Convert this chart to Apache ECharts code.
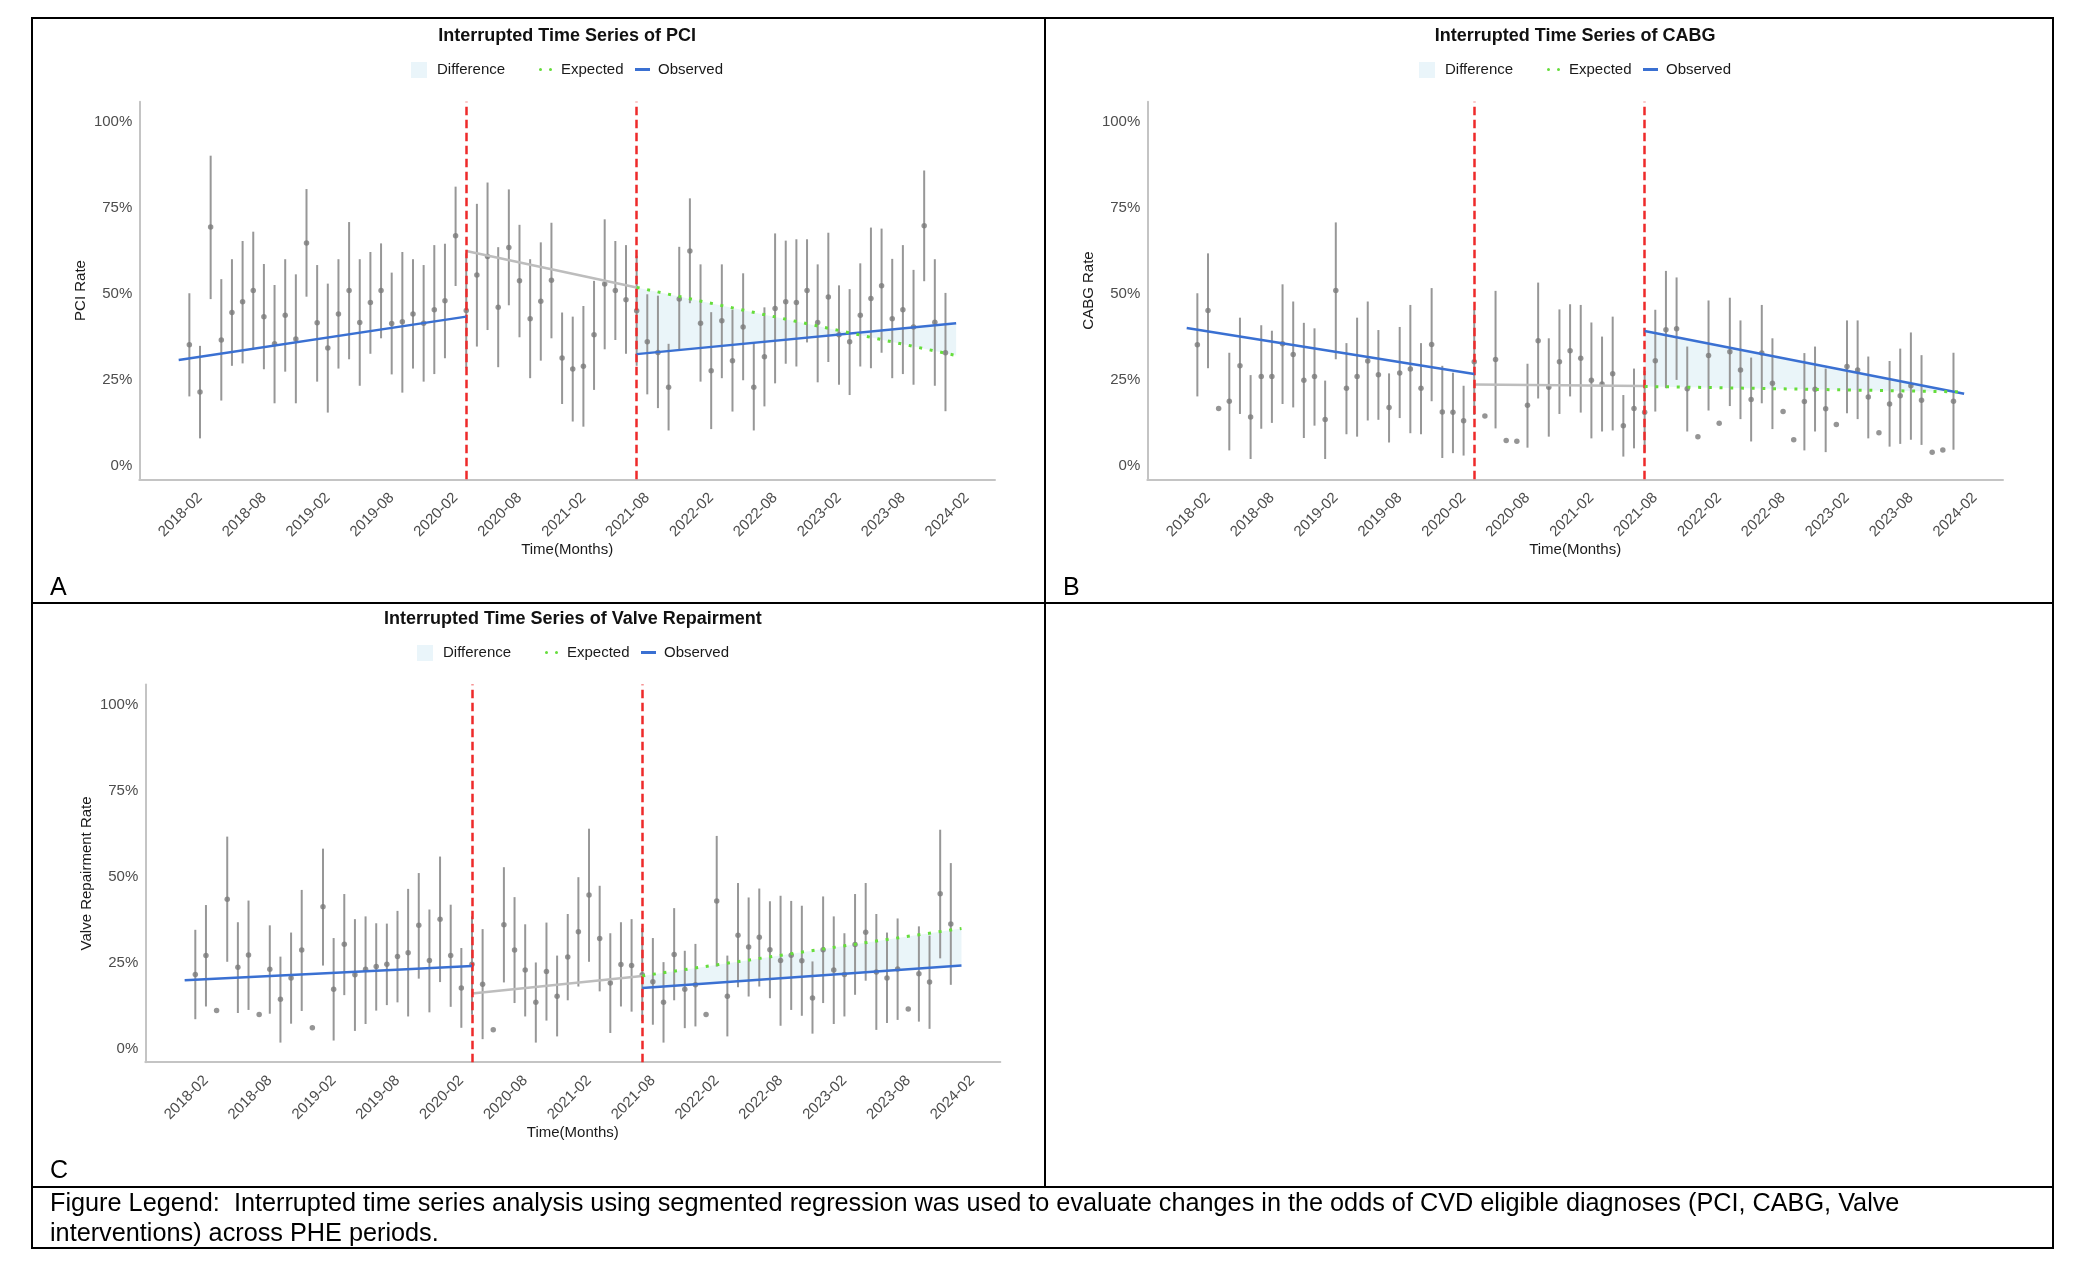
<!DOCTYPE html>
<html>
<head>
<meta charset="utf-8">
<script src="https://cdn.jsdelivr.net/npm/echarts@6/dist/echarts.min.js"></script>
<style>
html,body{margin:0;padding:0;background:#fff;}
#chart{width:2086px;height:1278px;}
</style>
</head>
<body>
<div id="chart"></div>
<script>
// ---- Axis ticks (month index: 0 = 2018-01) ----
const tickMonths = [1, 7, 13, 19, 25, 31, 37, 43, 49, 55, 61, 67, 73];
const tickLabels = ['2018-02','2018-08','2019-02','2019-08','2020-02','2020-08','2021-02','2021-08','2022-02','2022-08','2023-02','2023-08','2024-02'];
const yTicks = [0, 25, 50, 75, 100];
const breakMonths = [26, 42];

// ---- PCI ----
const pciRate = [35.1,21.4,69.4,36.5,44.5,47.6,50.9,43.3,35.4,43.7,
  36.8,64.7,41.5,34.2,44.1,50.9,41.6,47.4,50.9,41.3,
  41.8,44.1,41.4,45.3,47.9,66.8,45.1,55.4,60.8,46.0,
  63.4,53.7,42.7,47.8,53.9,31.3,28.1,28.9,38.0,52.8,
  50.9,48.2,45.0,36.0,32.9,22.8,48.4,62.4,41.4,27.6,
  42.1,30.5,40.3,22.8,31.6,45.7,47.6,47.4,50.9,41.6,
  49.0,38.0,36.0,43.7,48.6,52.3,42.7,45.3,40.3,69.7,
  41.7,32.8];
const pciLow = [20.1,7.9,48.4,18.9,29.0,29.7,34.0,28.0,18.1,27.3,
  18.1,49.1,24.4,15.4,28.2,30.9,23.2,32.5,37.0,26.5,
  21.2,28.2,24.4,26.6,31.2,52.2,28.3,34.6,39.4,28.6,
  46.6,37.3,25.4,30.5,37.0,17.9,12.8,11.3,22.0,33.8,
  36.5,32.5,29.0,20.7,16.7,10.2,33.6,47.2,24.4,10.6,
  25.4,15.7,24.8,10.2,17.2,23.9,29.6,28.8,35.8,24.2,
  30.1,23.5,20.5,28.8,28.3,32.8,25.4,26.6,23.5,53.6,
  23.2,15.8];
const pciHigh = [50.1,34.8,90.1,54.2,60.0,65.3,68.0,58.6,52.5,60.0,
  55.6,80.4,58.3,52.9,60.0,70.8,60.0,62.1,64.6,56.1,
  62.1,60.0,58.3,64.1,64.5,81.1,61.7,76.1,82.3,63.5,
  80.3,70.0,60.0,64.9,70.6,44.5,43.3,46.4,53.7,71.6,
  65.3,64.1,61.0,49.8,49.4,35.4,63.6,77.7,58.5,44.6,
  58.5,45.3,55.9,35.6,46.0,67.5,65.4,65.8,65.8,58.5,
  67.7,52.4,51.3,58.8,69.2,68.9,60.1,64.1,56.9,85.8,
  60.0,50.2];
const pciObservedPre = [[-1, 30.7], [26, 43.3]];
const pciInterim = [[26, 62.4], [42, 51.8]];
const pciObservedPost = [[42, 32.4], [72, 41.4]];
const pciExpected = [[42, 51.8], [72, 32.0]];

// ---- CABG ----
const cabgRate = [35.1,45.1,16.6,18.7,29.0,14.1,25.9,25.9,35.4,32.3,
  24.8,25.9,13.4,50.9,22.5,25.9,30.4,26.4,16.9,26.9,
  28.1,22.5,35.2,15.6,15.5,13.0,30.2,14.4,30.8,7.3,
  7.1,17.5,36.3,22.8,30.2,33.4,31.2,24.8,23.7,26.7,
  11.6,16.6,15.5,30.5,39.5,39.8,22.3,8.4,32.0,12.3,
  33.1,27.8,19.2,32.7,23.9,15.7,7.5,18.6,22.2,16.5,
  11.9,28.8,27.8,19.9,9.5,17.9,20.3,23.2,19.0,3.9,
  4.5,18.7];
const cabgLow = [20.1,28.3,null,4.4,15.0,1.9,10.7,12.4,17.9,16.9,
  8.0,11.6,1.9,30.9,9.1,8.4,13.1,13.3,6.7,13.8,
  9.4,9.1,18.7,2.2,3.6,2.9,14.7,null,10.8,null,
  null,5.2,19.5,8.4,15.0,20.1,15.4,7.9,9.9,10.2,
  2.6,5.0,3.9,15.7,22.5,24.9,9.9,null,16.0,null,
  17.3,13.5,7.0,18.1,10.6,null,null,4.4,9.9,3.9,
  null,15.2,13.5,7.9,null,5.5,6.3,7.5,6.0,null,
  null,4.6];
const cabgHigh = [50.1,61.7,null,32.8,43.0,26.3,40.8,39.2,52.7,47.7,
  41.5,39.9,24.7,70.7,35.6,43.0,47.7,39.4,26.8,40.3,
  46.7,35.6,51.6,29.0,27.0,23.2,45.3,null,50.8,null,
  null,29.6,53.2,37.0,45.4,46.9,46.7,41.6,37.5,43.3,
  20.5,28.2,27.5,45.3,56.6,54.7,34.6,null,48.0,null,
  48.8,42.2,31.4,46.7,37.0,null,null,32.7,34.6,28.2,
  null,42.2,42.2,31.7,null,30.4,34.0,38.7,32.1,null,
  null,32.8];
const cabgObservedPre = [[-1, 40.0], [26, 26.6]];
const cabgInterim = [[26, 23.6], [42, 23.1]];
const cabgObservedPost = [[42, 39.1], [72, 20.9]];
const cabgExpected = [[42, 23.0], [72, 21.4]];

// ---- Valve Repairment ----
const valveRate = [21.5,27.0,11.0,43.4,23.6,27.2,9.9,23.0,14.3,20.5,
  28.6,6.0,41.2,17.2,30.3,21.4,23.0,23.8,24.5,26.7,
  27.8,35.8,25.6,37.6,27.0,17.6,24.5,18.7,5.4,36.0,
  28.6,22.8,13.4,22.4,15.2,26.6,33.9,44.6,32.0,19.0,
  24.4,24.1,21.4,19.4,13.4,27.3,17.2,18.5,9.9,42.9,
  15.2,32.9,29.5,32.3,28.7,25.6,27.1,25.5,14.7,28.7,
  22.8,21.5,30.2,33.8,22.2,20.5,23.1,11.5,21.7,19.3,
  45.0,36.2];
const valveLow = [8.5,12.2,null,25.2,10.3,11.2,null,10.1,1.7,7.2,
  10.9,null,24.1,2.3,15.5,5.1,7.1,11.0,12.6,13.4,
  9.3,20.3,10.5,19.3,12.1,6.0,9.8,2.7,null,19.2,
  13.2,9.3,1.7,8.1,3.5,14.0,18.0,25.2,16.6,4.5,
  12.2,10.7,8.0,6.9,1.7,14.0,5.9,6.4,null,23.8,
  3.5,17.8,15.1,18.0,14.6,6.6,11.2,9.5,4.3,13.2,
  7.1,9.3,15.6,19.7,5.4,7.4,8.3,null,7.8,5.7,
  26.2,18.5];
const valveHigh = [34.5,41.7,null,61.6,36.7,43.0,null,35.8,26.7,33.7,
  46.1,null,58.1,32.1,44.9,37.6,38.4,36.4,36.3,40.0,
  46.4,51.0,40.4,55.8,41.8,29.2,38.4,34.7,null,52.7,
  44.0,36.1,25.0,36.6,27.0,39.1,49.8,63.9,47.3,33.5,
  36.7,37.6,35.0,32.1,25.1,40.8,28.4,30.4,null,61.8,
  27.0,48.1,43.9,46.5,42.8,44.4,42.9,41.5,25.3,44.2,
  38.4,33.5,44.9,48.1,39.1,33.7,37.8,null,35.5,32.8,
  63.6,53.9];
const valveObservedPre = [[-1, 19.8], [26, 24.0]];
const valveInterim = [[26, 16.0], [42, 21.1]];
const valveObservedPost = [[42, 17.6], [72, 24.1]];
const valveExpected = [[42, 21.1], [72, 34.9]];

// ---- Texts ----
const captionLines = [
  'Figure Legend:  Interrupted time series analysis using segmented regression was used to evaluate changes in the odds of CVD eligible diagnoses (PCI, CABG, Valve',
  'interventions) across PHE periods.'
];

// ---- Styling / layout ----
const FONT = "'Liberation Sans', Arial, Helvetica, sans-serif";
const C_OBS = '#3a70d2';
const C_EXP = '#66dd3c';
const C_INTERIM = '#bdbdbd';
const C_DIFF = 'rgba(173,216,230,0.26)';
const C_DIFF_KEY = '#eaf5fa';
const C_BREAK = '#ee2a2a';
const C_POINT = '#7b7b7b';
const C_BAR = '#979797';
const C_AXIS = '#c4c4c4';

const panels = [
  { title: 'Interrupted Time Series of PCI', yName: 'PCI Rate',
    rate: pciRate, low: pciLow, high: pciHigh,
    pre: pciObservedPre, interim: pciInterim, post: pciObservedPost, expected: pciExpected,
    grid: { left: 139.3, top: 101.7, width: 855.7, height: 377.6 }, dx: 0, dy: 0 },
  { title: 'Interrupted Time Series of CABG', yName: 'CABG Rate',
    rate: cabgRate, low: cabgLow, high: cabgHigh,
    pre: cabgObservedPre, interim: cabgInterim, post: cabgObservedPost, expected: cabgExpected,
    grid: { left: 1147.3, top: 101.7, width: 855.7, height: 377.6 }, dx: 1008, dy: 0 },
  { title: 'Interrupted Time Series of Valve Repairment', yName: 'Valve Repairment Rate',
    rate: valveRate, low: valveLow, high: valveHigh,
    pre: valveObservedPre, interim: valveInterim, post: valveObservedPost, expected: valveExpected,
    grid: { left: 145.3, top: 684.6, width: 855.0, height: 377.6 }, dx: 6, dy: 583 }
];

const grids = [], xAxes = [], yAxes = [], series = [], titles = [], legends = [];

panels.forEach((p, i) => {
  grids.push(Object.assign({ containLabel: false }, p.grid));
  const cx = p.grid.left + p.grid.width / 2;
  titles.push({
    text: p.title, left: cx, top: 27 + p.dy, textAlign: 'center', padding: 0,
    textStyle: { fontFamily: FONT, fontSize: 18, fontWeight: 'bold', color: '#111' }
  });
  const legTop = 62 + p.dy;
  const legText = { fontFamily: FONT, fontSize: 15, color: '#1a1a1a' };
  legends.push({
    data: [{ name: 'Difference', icon: 'rect', itemStyle: { color: C_DIFF_KEY, borderWidth: 0 } }],
    left: 411 + p.dx, top: legTop, itemWidth: 16, itemHeight: 16, padding: 0, selectedMode: false,
    textStyle: Object.assign({ padding: [0, 0, 0, 5] }, legText)
  });
  legends.push({
    data: [{ name: 'Expected', icon: 'path://M1.5,0A1.5,1.5,0,1,1,1.5,3A1.5,1.5,0,1,1,1.5,0ZM11.5,0A1.5,1.5,0,1,1,11.5,3A1.5,1.5,0,1,1,11.5,0Z',
             itemStyle: { color: C_EXP, borderWidth: 0 } }],
    left: 539 + p.dx, top: legTop, itemWidth: 13, itemHeight: 3, padding: 0, selectedMode: false,
    textStyle: Object.assign({ padding: [0, 0, 0, 4] }, legText)
  });
  legends.push({
    data: [{ name: 'Observed', icon: 'rect', itemStyle: { color: C_OBS, borderWidth: 0 } }],
    left: 635 + p.dx, top: legTop, itemWidth: 15, itemHeight: 3, padding: 0, selectedMode: false,
    textStyle: Object.assign({ padding: [0, 0, 0, 3] }, legText)
  });

  xAxes.push({
    type: 'value', gridIndex: i, min: -4.7, max: 75.65,
    axisLine: { show: true, onZero: false, lineStyle: { color: C_AXIS, width: 2 } },
    axisTick: { show: false }, splitLine: { show: false },
    axisLabel: {
      customValues: tickMonths,
      formatter: v => { const k = tickMonths.indexOf(v); return k >= 0 ? tickLabels[k] : ''; },
      rotate: 45, margin: 16, fontFamily: FONT, fontSize: 15, color: '#4d4d4d'
    },
    name: 'Time(Months)', nameLocation: 'middle', nameGap: 62,
    nameTextStyle: { fontFamily: FONT, fontSize: 15, color: '#1a1a1a' }
  });
  yAxes.push({
    type: 'value', gridIndex: i, min: -4, max: 105.8,
    axisLine: { show: true, onZero: false, lineStyle: { color: C_AXIS, width: 2 } },
    axisTick: { show: false }, splitLine: { show: false },
    axisLabel: {
      customValues: yTicks, formatter: v => v + '%', margin: 7,
      fontFamily: FONT, fontSize: 15, color: '#4d4d4d'
    },
    name: p.yName, nameLocation: 'middle', nameGap: 51, nameRotate: 90,
    nameTextStyle: { fontFamily: FONT, fontSize: 15, color: '#1a1a1a' }
  });

  // Difference ribbon between expected and observed post-period trends
  series.push({
    type: 'custom', name: 'Difference', xAxisIndex: i, yAxisIndex: i, z: 1, silent: true,
    itemStyle: { color: C_DIFF_KEY },
    data: [p.expected[0]],
    renderItem: (params, api) => {
      const pts = p.expected.map(d => api.coord(d))
        .concat(p.post.slice().reverse().map(d => api.coord(d)));
      return { type: 'polygon', shape: { points: pts }, style: { fill: C_DIFF, stroke: null } };
    }
  });
  // Error bars
  const bars = [];
  p.rate.forEach((v, t) => { if (p.low[t] != null && p.high[t] != null) bars.push([t, p.low[t], p.high[t]]); });
  series.push({
    type: 'custom', name: 'CI', xAxisIndex: i, yAxisIndex: i, z: 2, silent: true,
    data: bars, encode: { x: 0, y: [1, 2] },
    renderItem: (params, api) => {
      const a = api.coord([api.value(0), api.value(1)]);
      const b = api.coord([api.value(0), api.value(2)]);
      return { type: 'line', shape: { x1: a[0], y1: a[1], x2: b[0], y2: b[1] },
               style: { stroke: C_BAR, lineWidth: 2 } };
    }
  });
  // Monthly rates
  series.push({
    type: 'scatter', name: 'Rate', xAxisIndex: i, yAxisIndex: i, z: 3, silent: true,
    symbol: 'circle', symbolSize: 5.5, itemStyle: { color: C_POINT },
    data: p.rate.map((v, t) => [t, v])
  });
  // Interim (gray) trend
  series.push({
    type: 'line', name: 'Interim', xAxisIndex: i, yAxisIndex: i, z: 4, silent: true,
    showSymbol: false, symbol: 'none', data: p.interim,
    lineStyle: { color: C_INTERIM, width: 2.5 }
  });
  // Observed trends
  [p.pre, p.post].forEach(seg => series.push({
    type: 'line', name: 'Observed', xAxisIndex: i, yAxisIndex: i, z: 5, silent: true,
    showSymbol: false, symbol: 'none', data: seg, color: C_OBS,
    lineStyle: { color: C_OBS, width: 2.5 }
  }));
  // Expected (counterfactual)
  series.push({
    type: 'line', name: 'Expected', xAxisIndex: i, yAxisIndex: i, z: 5, silent: true,
    showSymbol: false, symbol: 'none', data: p.expected, color: C_EXP,
    lineStyle: { color: C_EXP, width: 3, type: [3, 7.7], cap: 'butt' }
  });
  // Interruption lines
  series.push({
    type: 'line', name: 'Break', xAxisIndex: i, yAxisIndex: i, z: 6, silent: true,
    data: [], showSymbol: false,
    markLine: {
      silent: true, symbol: ['none', 'none'], label: { show: false }, animation: false,
      lineStyle: { color: C_BREAK, width: 2.5, type: [8.5, 4.5] },
      emphasis: { disabled: true },
      data: breakMonths.map(m => ({ xAxis: m }))
    }
  });
});

const CAP_FONT = '25.25px ' + FONT;
const graphics = [
  { type: 'rect', shape: { x: 32, y: 18, width: 2021, height: 1230 }, style: { fill: null, stroke: '#000', lineWidth: 2 }, silent: true },
  { type: 'line', shape: { x1: 1045, y1: 18, x2: 1045, y2: 1187 }, style: { stroke: '#000', lineWidth: 2 }, silent: true },
  { type: 'line', shape: { x1: 32, y1: 603, x2: 2053, y2: 603 }, style: { stroke: '#000', lineWidth: 2 }, silent: true },
  { type: 'line', shape: { x1: 32, y1: 1187, x2: 2053, y2: 1187 }, style: { stroke: '#000', lineWidth: 2 }, silent: true },
  { type: 'text', x: 50, y: 588, style: { text: 'A', font: '25px ' + FONT, fill: '#000', textVerticalAlign: 'middle' }, silent: true },
  { type: 'text', x: 1063, y: 588, style: { text: 'B', font: '25px ' + FONT, fill: '#000', textVerticalAlign: 'middle' }, silent: true },
  { type: 'text', x: 50, y: 1171, style: { text: 'C', font: '25px ' + FONT, fill: '#000', textVerticalAlign: 'middle' }, silent: true },
  { type: 'text', x: 50, y: 1204, style: { text: captionLines[0], font: CAP_FONT, fill: '#000', textVerticalAlign: 'middle' }, silent: true },
  { type: 'text', x: 50, y: 1234, style: { text: captionLines[1], font: CAP_FONT, fill: '#000', textVerticalAlign: 'middle' }, silent: true }
];

const chart = echarts.init(document.getElementById('chart'), null, { renderer: 'canvas' });
chart.setOption({
  animation: false,
  backgroundColor: '#ffffff',
  title: titles,
  legend: legends,
  grid: grids,
  xAxis: xAxes,
  yAxis: yAxes,
  series: series,
  graphic: graphics
});
</script>
</body>
</html>
